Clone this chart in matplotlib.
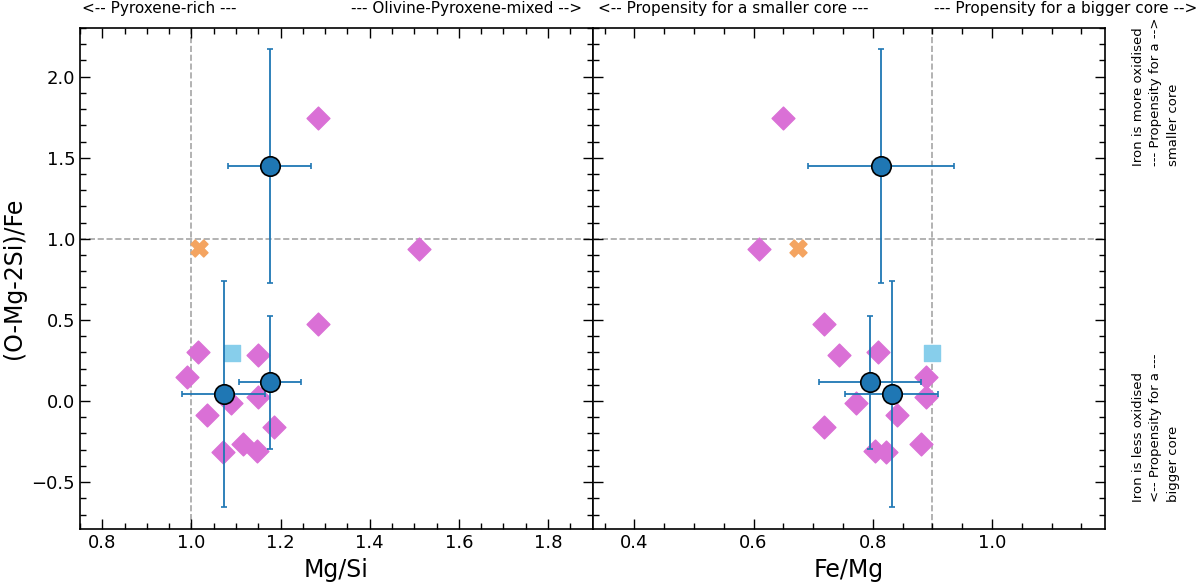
import matplotlib
matplotlib.use("Agg")
import matplotlib.pyplot as plt
from matplotlib.ticker import MultipleLocator

# stars (diamonds)
mgsi_stars = [1.283, 1.511, 1.015, 0.991, 1.150, 1.284, 1.150, 1.089, 1.035, 1.185, 1.116, 1.146, 1.070]
femg_stars = [0.649, 0.609, 0.809, 0.889, 0.743, 0.719, 0.890, 0.772, 0.841, 0.719, 0.881, 0.804, 0.822]
oxi_stars = [1.744, 0.940, 0.303, 0.145, 0.281, 0.472, 0.022, -0.014, -0.088, -0.162, -0.264, -0.307, -0.314]

# single objects
mgsi_cross, femg_cross, oxi_cross = [1.018], [0.675], [0.944]
mgsi_square, femg_square, oxi_square = [1.092], [0.899], [0.299]

# planets with error bars
mgsi_pl = [1.176, 1.176, 1.072]
mgsi_pl_err = [0.093, 0.070, 0.093]
femg_pl = [0.814, 0.795, 0.832]
femg_pl_err = [0.122, 0.086, 0.078]
oxi_pl = [1.450, 0.117, 0.042]
oxi_pl_err = [0.720, 0.410, 0.695]

fig, (ax1, ax2) = plt.subplots(1, 2, figsize=(12, 5.84), dpi=100, sharey=True)
plt.subplots_adjust(left=0.0667, right=0.921, bottom=0.094, top=0.952, wspace=0)

panels = [
    (ax1, mgsi_stars, mgsi_cross, mgsi_square, mgsi_pl, mgsi_pl_err),
    (ax2, femg_stars, femg_cross, femg_square, femg_pl, femg_pl_err),
]
for ax, xs, xc, xsq, xp, xpe in panels:
    ax.axhline(1.0, color='grey', ls='--', lw=1.2, alpha=0.7, zorder=1)
    ax.scatter(xs, oxi_stars, marker='D', s=135, color='orchid', zorder=2)
    ax.scatter(xc, oxi_cross, marker='X', s=150, color='sandybrown', zorder=2)
    ax.scatter(xsq, oxi_square, marker='s', s=125, color='skyblue', zorder=2)
    ax.errorbar(xp, oxi_pl, xerr=xpe, yerr=oxi_pl_err, fmt='o', ms=14,
                color='#1f77b4', mfc='#1f77b4', mec='black', mew=1.2,
                elinewidth=1.3, capsize=2.5, capthick=1.3, zorder=3)
    ax.tick_params(which='both', direction='in', top=True, right=True, labelsize=13)
    ax.tick_params(which='major', length=7, width=1)
    ax.tick_params(which='minor', length=4, width=1)
    ax.xaxis.set_minor_locator(MultipleLocator(0.05))
    ax.yaxis.set_minor_locator(MultipleLocator(0.1))
    ax.xaxis.set_major_locator(MultipleLocator(0.2))
    ax.yaxis.set_major_locator(MultipleLocator(0.5))
    for sp in ax.spines.values():
        sp.set_linewidth(1.2)

ax1.axvline(1.0, color='grey', ls='--', lw=1.2, alpha=0.7, zorder=1)
ax2.axvline(0.9, color='grey', ls='--', lw=1.2, alpha=0.7, zorder=1)

ax1.set_xlim(0.75, 1.9)
ax2.set_xlim(0.33, 1.19)
ax1.set_ylim(-0.79, 2.30)

ax1.set_xlabel('Mg/Si', fontsize=17)
ax2.set_xlabel('Fe/Mg', fontsize=17)
ax1.set_ylabel('(O-Mg-2Si)/Fe', fontsize=17)
ax2.tick_params(labelleft=False)

fig.text(82 / 1200, 1 - 9 / 584, '<-- Pyroxene-rich ---', fontsize=11, ha='left', va='center')
fig.text(582 / 1200, 1 - 9 / 584, '--- Olivine-Pyroxene-mixed -->', fontsize=11, ha='right', va='center')
fig.text(598 / 1200, 1 - 9 / 584, '<-- Propensity for a smaller core ---', fontsize=11, ha='left', va='center')
fig.text(1197 / 1200, 1 - 9 / 584, '--- Propensity for a bigger core -->', fontsize=11, ha='right', va='center')

fig.text(0.963, 1 - 166 / 584, 'Iron is more oxidised\n--- Propensity for a -->\nsmaller core',
         fontsize=9.5, rotation=90, ha='center', va='bottom', multialignment='left', linespacing=1.45)
fig.text(0.963, 1 - 502 / 584, 'Iron is less oxidised\n<-- Propensity for a ---\nbigger core',
         fontsize=9.5, rotation=90, ha='center', va='bottom', multialignment='left', linespacing=1.45)

plt.savefig('out.png', dpi=100)
